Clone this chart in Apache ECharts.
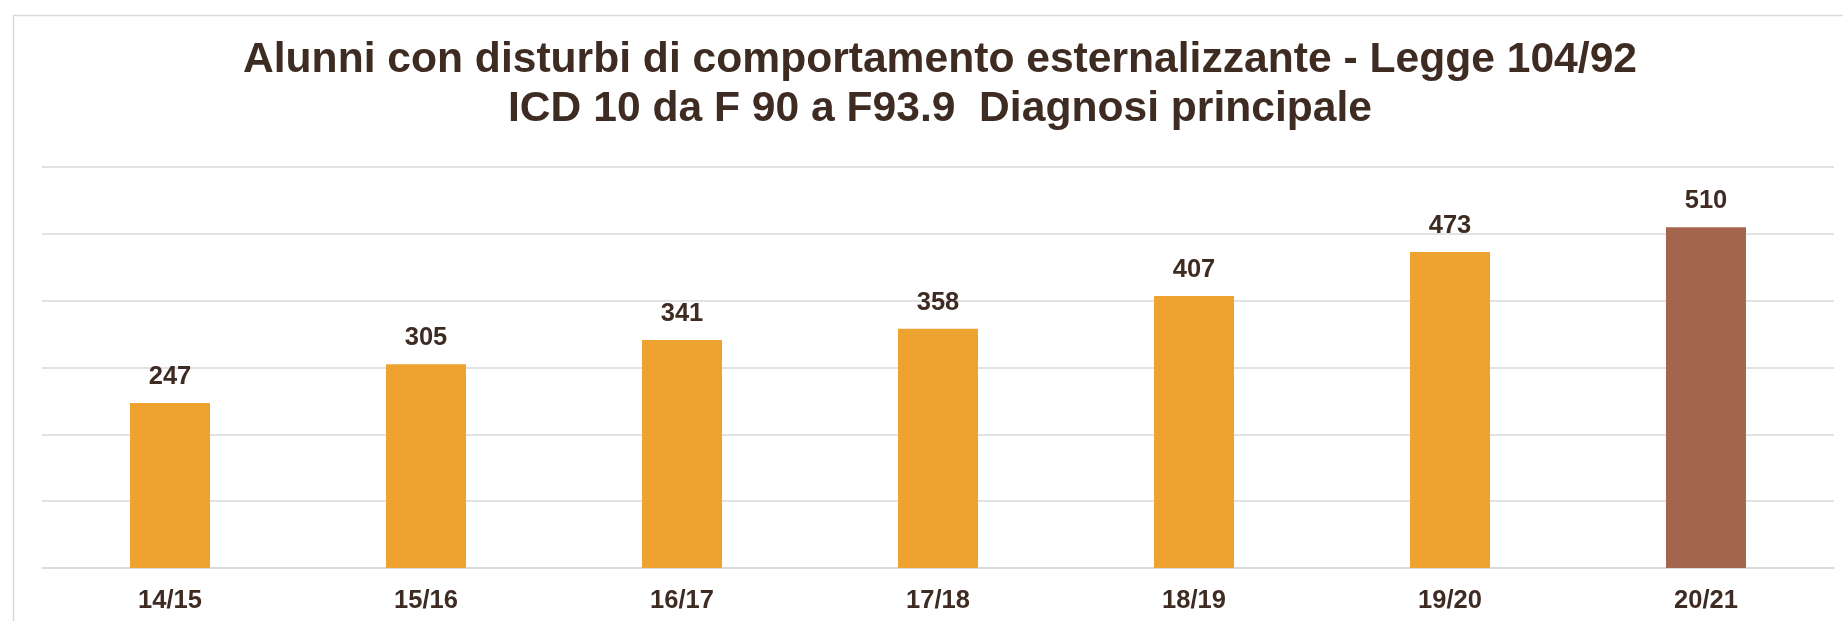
<!DOCTYPE html>
<html>
<head>
<meta charset="utf-8">
<script src="https://cdn.jsdelivr.net/npm/echarts@6/dist/echarts.min.js"></script>
<style>
html,body{margin:0;padding:0;background:#fff;}
#chart{width:1843px;height:621px;}
</style>
</head>
<body>
<div id="chart"></div>
<script>
const titleLines = ["Alunni con disturbi di comportamento esternalizzante - Legge 104/92", "ICD 10 da F 90 a F93.9  Diagnosi principale"];
const categories = ["14/15", "15/16", "16/17", "17/18", "18/19", "19/20", "20/21"];
const values = [247, 305, 341, 358, 407, 473, 510];
const barColors = ["#EEA230", "#EEA230", "#EEA230", "#EEA230", "#EEA230", "#EEA230", "#A5644E"];

const textColor = "#3E2C23";
const fontFamily = "'Liberation Sans', Arial, sans-serif";

const chart = echarts.init(document.getElementById('chart'), null, {renderer: 'canvas'});
chart.setOption({
  backgroundColor: '#ffffff',
  animation: false,
  graphic: [{
    type: 'rect',
    shape: {x: 13.5, y: 15.5, width: 1900, height: 700},
    style: {fill: 'none', stroke: '#D9D9D9', lineWidth: 1.5},
    silent: true
  }],
  title: {
    text: titleLines.join('\n'),
    left: 940,
    top: 36,
    padding: 0,
    textAlign: 'center',
    textStyle: {
      fontFamily: fontFamily,
      fontWeight: 'bold',
      fontSize: 42.6,
      lineHeight: 49,
      color: textColor
    }
  },
  grid: {left: 42, right: 9, top: 167, bottom: 53, containLabel: false},
  xAxis: {
    type: 'category',
    data: categories,
    axisLine: {show: true, lineStyle: {color: '#D9D9D9', width: 1.5}},
    axisTick: {show: false},
    axisLabel: {
      margin: 20,
      fontFamily: fontFamily,
      fontWeight: 'bold',
      fontSize: 25.5,
      color: textColor
    }
  },
  yAxis: {
    type: 'value',
    min: 0,
    max: 600,
    interval: 100,
    axisLine: {show: false},
    axisTick: {show: false},
    axisLabel: {show: false},
    splitLine: {show: true, lineStyle: {color: '#D9D9D9', width: 1.5}}
  },
  series: [{
    type: 'bar',
    barWidth: 80,
    data: values.map((v, i) => ({value: v, itemStyle: {color: barColors[i]}})),
    label: {
      show: true,
      position: 'top',
      distance: 13,
      fontFamily: fontFamily,
      fontWeight: 'bold',
      fontSize: 25.5,
      color: textColor
    }
  }]
});
</script>
</body>
</html>
